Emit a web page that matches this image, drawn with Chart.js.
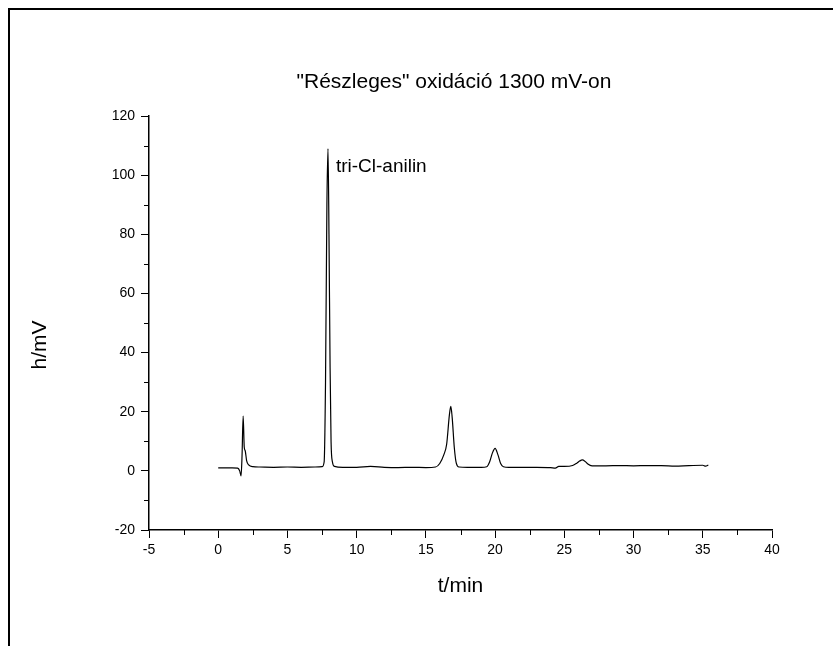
<!DOCTYPE html>
<html><head><meta charset="utf-8">
<script src="https://cdn.jsdelivr.net/npm/chart.js@4/dist/chart.umd.min.js"></script>
<style>html,body{margin:0;padding:0;background:#fff;}#wrap{width:833px;height:646px;position:relative;}canvas{display:block;}</style>
</head><body><div id="wrap"><canvas id="c" width="833" height="646"></canvas></div>
<script>
const chartTitle = '"Részleges" oxidáció 1300 mV-on';
const xAxisTitle = 't/min';
const yAxisTitle = 'h/mV';
const peakLabel = 'tri-Cl-anilin';
const peakLabelAt = [8.5, 102.7];

const times  = [0, 0.5, 1.0, 1.4, 1.55, 1.65, 1.72, 1.8, 1.88, 1.95, 2.05, 2.2, 2.5, 3, 4, 5, 6, 7, 7.5,
  7.65, 7.75, 7.85, 7.93, 8.0, 8.08, 8.15, 8.25, 8.4, 9, 10, 11, 12, 13, 14, 15, 15.7, 16.0, 16.3, 16.5,
  16.7, 16.8, 16.9, 17.05, 17.2, 17.4, 18, 19, 19.4, 19.6, 19.8, 20.0, 20.2, 20.4, 20.6, 21, 22, 23, 24,
  24.35, 24.6, 25, 25.6, 25.9, 26.1, 26.3, 26.5, 26.7, 27.0, 28, 29, 30, 31, 32, 33, 34, 35, 35.2, 35.4];
const signal = [1.0, 1.0, 1.0, 0.9, 0.0, -1.7, 5, 18.5, 8, 6.8, 3.5, 2.0, 1.4, 1.3, 1.2, 1.3, 1.2, 1.3, 1.4,
  3, 30, 90, 109, 80, 35, 10, 3, 1.5, 1.2, 1.2, 1.5, 1.2, 1.1, 1.2, 1.1, 1.3, 2.5, 5.5, 9,
  19, 21.8, 18, 8, 2.5, 1.3, 1.2, 1.2, 1.4, 3, 6, 7.6, 5.5, 2.5, 1.4, 1.2, 1.2, 1.2, 1.1,
  0.9, 1.5, 1.5, 1.8, 2.6, 3.3, 3.7, 3.2, 2.3, 1.7, 1.7, 1.8, 1.7, 1.8, 1.8, 1.6, 1.8, 1.9, 1.6, 2.0];

const xRange = [-5, 40];
const xStep = 5;
const yRange = [-20, 120];
const yStep = 20;

const points = times.map((t, i) => ({x: t, y: signal[i]}));
const FONT = "'Liberation Sans', Arial, sans-serif";

const extras = {
  id: 'extras',
  afterDraw(chart) {
    const ctx = chart.ctx;
    const ca = chart.chartArea;
    const xs = chart.scales.x, ys = chart.scales.y;
    ctx.save();
    // minor ticks
    ctx.strokeStyle = '#000';
    ctx.lineWidth = 1;
    ctx.beginPath();
    for (let v = xRange[0] + xStep / 2; v < xRange[1]; v += xStep) {
      const px = Math.round(xs.getPixelForValue(v)) + 0.5;
      ctx.moveTo(px, ca.bottom); ctx.lineTo(px, ca.bottom + 5);
    }
    for (let v = yRange[0] + yStep / 2; v < yRange[1]; v += yStep) {
      const py = Math.round(ys.getPixelForValue(v)) + 0.5;
      ctx.moveTo(ca.left, py); ctx.lineTo(ca.left - 5, py);
    }
    ctx.stroke();
    // frame
    ctx.lineWidth = 2;
    ctx.beginPath();
    ctx.moveTo(9, 646); ctx.lineTo(9, 9); ctx.lineTo(833, 9);
    ctx.stroke();
    // texts
    ctx.fillStyle = '#000';
    ctx.textAlign = 'center';
    ctx.textBaseline = 'middle';
    ctx.font = '21px ' + FONT;
    ctx.fillText(chartTitle, 454, 82);
    ctx.fillText(xAxisTitle, (ca.left + ca.right) / 2, 586);
    ctx.save();
    ctx.translate(40, 345);
    ctx.rotate(-Math.PI / 2);
    ctx.fillText(yAxisTitle, 0, 0);
    ctx.restore();
    ctx.textAlign = 'left';
    ctx.font = '19px ' + FONT;
    ctx.fillText(peakLabel, xs.getPixelForValue(peakLabelAt[0]), ys.getPixelForValue(peakLabelAt[1]));
    ctx.restore();
  }
};

new Chart(document.getElementById('c'), {
  type: 'line',
  data: {datasets: [{data: points, borderColor: '#000', borderWidth: 1.2, pointRadius: 0,
    cubicInterpolationMode: 'monotone', fill: false}]},
  options: {
    responsive: false, animation: false, devicePixelRatio: 1,
    layout: {padding: {left: 0, top: 116, right: 61, bottom: 0}},
    plugins: {legend: {display: false}, tooltip: {enabled: false}, title: {display: false}},
    scales: {
      x: {type: 'linear', min: xRange[0], max: xRange[1],
        afterFit(s) { s.height = 116; },
        ticks: {stepSize: xStep, color: '#000', font: {family: FONT, size: 14}, padding: 4, maxRotation: 0},
        grid: {drawOnChartArea: false, drawTicks: true, tickLength: 8, color: '#000', lineWidth: 1},
        border: {display: true, color: '#000', width: 1.5}},
      y: {type: 'linear', min: yRange[0], max: yRange[1],
        afterFit(s) { s.width = 149; },
        ticks: {stepSize: yStep, color: '#000', font: {family: FONT, size: 14}, padding: 6},
        grid: {drawOnChartArea: false, drawTicks: true, tickLength: 8, color: '#000', lineWidth: 1},
        border: {display: true, color: '#000', width: 1.5}}
    }
  },
  plugins: [extras]
});
</script></body></html>
